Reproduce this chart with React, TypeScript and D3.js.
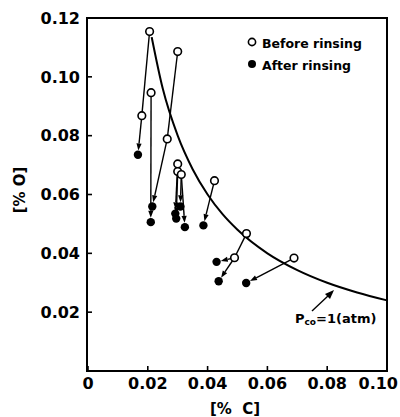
import React from 'react'
import * as d3 from 'd3'

// values: [%C], [%O]
const beforeC = [0.0206, 0.03, 0.0211, 0.018, 0.0265, 0.03, 0.03, 0.0312, 0.0423, 0.053, 0.049, 0.0689]
const beforeO = [0.1154, 0.1086, 0.0946, 0.0868, 0.0789, 0.0704, 0.0678, 0.0668, 0.0647, 0.0467, 0.0385, 0.0384]

const afterC = [0.0167, 0.0215, 0.021, 0.0309, 0.0292, 0.0295, 0.0324, 0.0386, 0.043, 0.0437, 0.0529]
const afterO = [0.0735, 0.0559, 0.0506, 0.0559, 0.0535, 0.0518, 0.0489, 0.0495, 0.0371, 0.0305, 0.0299]

// before index -> after index (arrow)
const links = [[3, 0], [2, 2], [4, 1], [5, 4], [6, 5], [7, 3], [7, 6], [8, 7], [10, 8], [10, 9], [11, 10]]
// before index -> before index (plain segment)
const chains = [[0, 3], [1, 4], [9, 10]]

// Pco = 1 atm line
const curveC = [0.0213, 0.025, 0.03, 0.035, 0.04, 0.045, 0.05, 0.06, 0.07, 0.08, 0.09, 0.1]
const curveO = [0.1135, 0.096, 0.08, 0.0686, 0.06, 0.0533, 0.048, 0.04, 0.0343, 0.03, 0.0267, 0.024]

const xTicks = [0, 0.02, 0.04, 0.06, 0.08, 0.1]
const yTicks = [0.02, 0.04, 0.06, 0.08, 0.1, 0.12]

const font = '"DejaVu Sans", Arial, sans-serif'

export default function App() {
  const x = d3.scaleLinear().domain([0, 0.1]).range([88, 387])
  const y = d3.scaleLinear().domain([0, 0.12]).range([371, 18])

  const curvePath = d3
    .line<number>()
    .x((c) => x(c))
    .y((_, i) => y(curveO[i]))
    .curve(d3.curveMonotoneX)(curveC)

  const r = 3.8

  // arrow from a before point to an after point
  const arrow = (b: number, a: number, k: string) => {
    const x1 = x(beforeC[b])
    const y1 = y(beforeO[b])
    const x2 = x(afterC[a])
    const y2 = y(afterO[a])
    const len = Math.hypot(x2 - x1, y2 - y1)
    const ux = (x2 - x1) / len
    const uy = (y2 - y1) / len
    const tx = x2 - ux * (r + 0.5)
    const ty = y2 - uy * (r + 0.5)
    const bx = tx - ux * 7
    const by = ty - uy * 7
    const pts = [
      [tx, ty],
      [bx - uy * 2.6, by + ux * 2.6],
      [bx + uy * 2.6, by - ux * 2.6],
    ]
    return (
      <g key={k}>
        <line x1={x1} y1={y1} x2={bx} y2={by} stroke="#000" strokeWidth={1.4} />
        <polygon points={pts.map((p) => p.join(',')).join(' ')} fill="#000" />
      </g>
    )
  }

  return (
    <svg
      width={400}
      height={417}
      style={{ position: 'absolute', left: 0, top: 0, background: '#fff' }}
      fontFamily={font}
      fontWeight="bold"
    >
      {/* frame */}
      <rect x={87} y={18} width={300} height={353} fill="none" stroke="#000" strokeWidth={2} />

      {/* ticks + labels */}
      {yTicks.map((t) => (
        <g key={'y' + t}>
          <line x1={87} x2={92} y1={y(t)} y2={y(t)} stroke="#000" strokeWidth={1.6} />
          <text x={80} y={y(t)} dy="0.36em" textAnchor="end" fontSize={16}>
            {t.toFixed(2)}
          </text>
        </g>
      ))}
      {xTicks.map((t, i) => {
        const last = i === xTicks.length - 1
        return (
          <g key={'x' + t}>
            <line x1={x(t)} x2={x(t)} y1={371} y2={366} stroke="#000" strokeWidth={1.6} />
            <text
              x={last ? 398 : x(t)}
              y={389}
              textAnchor={last ? 'end' : 'middle'}
              fontSize={16}
            >
              {t === 0 ? '0' : t.toFixed(2)}
            </text>
          </g>
        )
      })}

      <text x={235} y={414} textAnchor="middle" fontSize={15} style={{ whiteSpace: 'pre' }}>
        {'[%  C]'}
      </text>
      <text
        transform="translate(25,190) rotate(-90)"
        textAnchor="middle"
        fontSize={15}
        style={{ whiteSpace: 'pre' }}
      >
        {'[% O]'}
      </text>

      {/* Pco curve */}
      <path d={curvePath || ''} fill="none" stroke="#000" strokeWidth={2} />
      <line x1={312} y1={311} x2={329} y2={295} stroke="#000" strokeWidth={1.4} />
      <polygon points="334,290 325,294 330,299" fill="#000" />
      <text x={295} y={323} fontSize={13}>
        P<tspan fontSize={9} dy={2}>co</tspan>
        <tspan dy={-2}>=1(atm)</tspan>
      </text>

      {/* connections */}
      {chains.map(([a, b], i) => (
        <line
          key={'c' + i}
          x1={x(beforeC[a])}
          y1={y(beforeO[a])}
          x2={x(beforeC[b])}
          y2={y(beforeO[b])}
          stroke="#000"
          strokeWidth={1.4}
        />
      ))}
      {links.map(([b, a], i) => arrow(b, a, 'l' + i))}

      {/* points */}
      {afterC.map((c, i) => (
        <circle key={'a' + i} cx={x(c)} cy={y(afterO[i])} r={4.2} fill="#000" />
      ))}
      {beforeC.map((c, i) => (
        <circle key={'b' + i} cx={x(c)} cy={y(beforeO[i])} r={r} fill="#fff" stroke="#000" strokeWidth={1.6} />
      ))}

      {/* legend */}
      <circle cx={252} cy={42} r={3.6} fill="#fff" stroke="#000" strokeWidth={1.6} />
      <text x={262} y={47.5} fontSize={12.5}>Before rinsing</text>
      <circle cx={252} cy={64} r={4} fill="#000" />
      <text x={262} y={69.5} fontSize={12.5}>After rinsing</text>
    </svg>
  )
}
